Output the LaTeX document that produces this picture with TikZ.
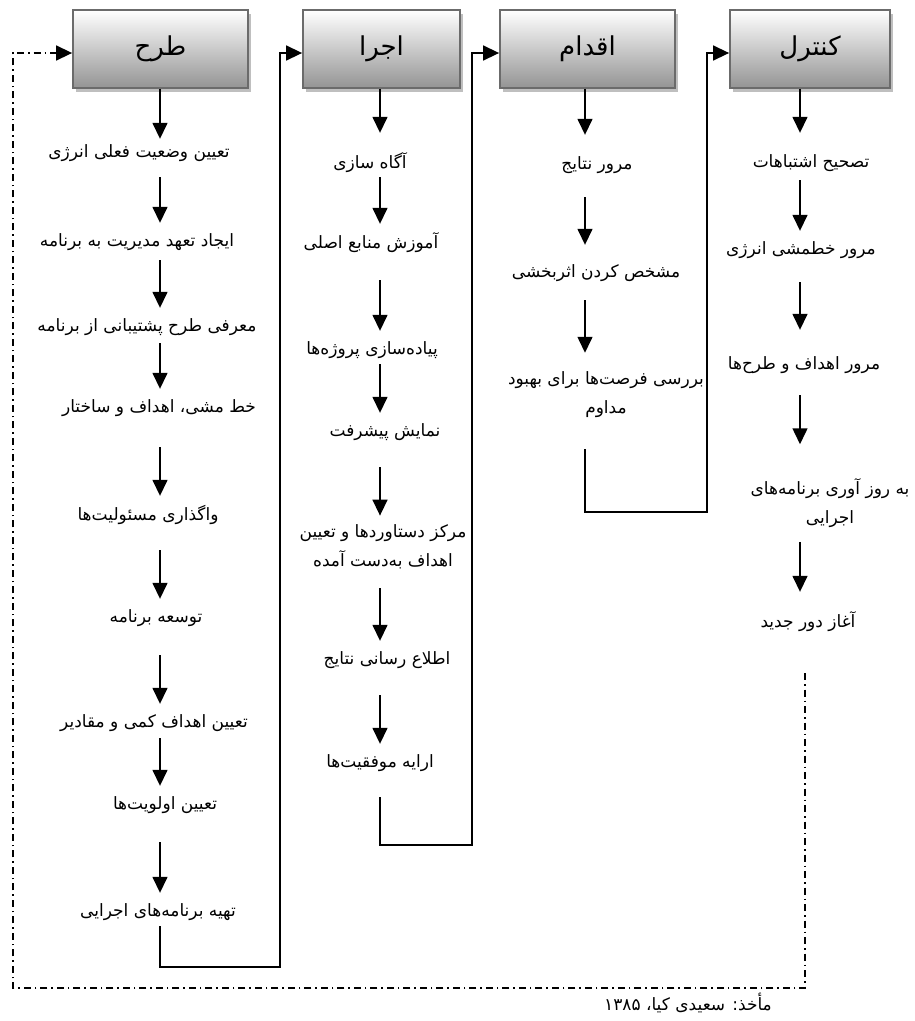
\documentclass[tikz,border=0pt]{standalone}
\usepackage{fontspec}
\newfontfamily\arabicfont[Script=Arabic]{DejaVu Sans}
\TeXXeTstate=1
\usetikzlibrary{arrows.meta,shadows,calc}
\newcommand{\fatext}[1]{\beginR #1\endR}
\newcommand{\zw}{^^^^200c}

\begin{document}
\begin{tikzpicture}[x=1pt, y=-1pt,
                    phase/.style={draw=black!58, line width=1.8pt, rectangle, minimum height=78pt,
                                  top color=white, bottom color=black!42,
                                  drop shadow={shadow xshift=3pt, shadow yshift=-4pt, fill=black!25, opacity=1},
                                  font=\arabicfont\fontsize{26}{30}\selectfont},
                    task/.style={font=\arabicfont\fontsize{17}{29}\selectfont, align=center,
                                 inner sep=1pt, minimum height=28pt},
                    flow/.style={draw, line width=1.5pt, -{Triangle[length=16pt,width=15pt]}, shorten >=5pt},
                    feed/.style={draw, line width=1.5pt, -{Triangle[length=16pt,width=15pt]}},
                    back/.style={feed, dash pattern=on 7pt off 4pt on 1.5pt off 4pt}]
    \useasboundingbox (0,0) rectangle (915,1021);

    % Columns
    \coordinate (c1) at (160,0);
    \coordinate (c2) at (380,0);
    \coordinate (c3) at (585,0);
    \coordinate (c4) at (800,0);
    \coordinate (c5) at (805,0);
    \coordinate (turn1) at (280,967);
    \coordinate (turn2) at (472,845);
    \coordinate (turn3) at (707,512);
    \coordinate (corner) at (13,988);

    % Phases
    \node [phase, minimum width=175pt] (plan)    at (160.5,49) {\fatext{طرح}\hspace{48pt}};
    \node [phase, minimum width=157pt] (execute) at (381.5,49) {\fatext{اجرا}\hspace{48pt}};
    \node [phase, minimum width=175pt] (act)     at (587.5,49) {\fatext{اقدام}\hspace{48pt}};
    \node [phase, minimum width=160pt] (check)   at (810,49)   {\fatext{کنترل}\hspace{52pt}};

    % Nodes
    \node [task] (t11) at (139,153) {\fatext{تعیین وضعیت فعلی انرژی}};
    \node [task] (t12) at (137,242) {\fatext{ایجاد تعهد مدیریت به برنامه}};
    \node [task] (t13) at (147,327) {\fatext{معرفی طرح پشتیبانی از برنامه}};
    \node [task] (t14) at (159,408) {\fatext{خط مشی، اهداف و ساختار}};
    \node [task] (t15) at (148,515) {\fatext{واگذاری مسئولیت\zw ها}};
    \node [task] (t16) at (156,618) {\fatext{توسعه برنامه}};
    \node [task] (t17) at (154,723) {\fatext{تعیین اهداف کمی و مقادیر}};
    \node [task] (t18) at (165,805) {\fatext{تعیین اولویت\zw ها}};
    \node [task] (t19) at (158,912) {\fatext{تهیه برنامه\zw های اجرایی}};

    \node [task] (t21) at (370,163) {\fatext{آگاه سازی}};
    \node [task] (t22) at (371,243) {\fatext{آموزش منابع اصلی}};
    \node [task] (t23) at (372,350) {\fatext{پیاده\zw سازی پروژه\zw ها}};
    \node [task] (t24) at (385,432) {\fatext{نمایش پیشرفت}};
    \node [task] (t25) at (383,547) {\fatext{مرکز دستاوردها و تعیین}\\\fatext{اهداف به\zw دست آمده}};
    \node [task] (t26) at (387,660) {\fatext{اطلاع رسانی نتایج}};
    \node [task] (t27) at (380,763) {\fatext{ارایه موفقیت\zw ها}};

    \node [task] (t31) at (597,165) {\fatext{مرور نتایج}};
    \node [task] (t32) at (596,273) {\fatext{مشخص کردن اثربخشی}};
    \node [task] (t33) at (606,395) {\fatext{بررسی فرصت\zw ها برای بهبود}\\\fatext{مداوم}};

    \node [task] (t41) at (811,163) {\fatext{تصحیح اشتباهات}};
    \node [task] (t42) at (801,250) {\fatext{مرور خطمشی انرژی}};
    \node [task] (t43) at (804,365) {\fatext{مرور اهداف و طرح\zw ها}};
    \node [task] (t44) at (830,503) {\fatext{به روز آوری برنامه\zw های}\\\fatext{اجرایی}};
    \node [task] (t45) at (808,622) {\fatext{آغاز دور جدید}};

    \node [task] (source) at (688,1003) {\fatext{مأخذ: سعیدی کیا، \beginL ۱۳۸۵\endL{}}};

    % Paths
    \path [flow, shorten >=0pt] (plan.south -| c1) -- (t11.north -| c1);
    \path [flow, shorten <=10pt] (t11.south -| c1) -- (t12.north -| c1);
    \path [flow, shorten <=4pt]  (t12.south -| c1) -- (t13.north -| c1);
    \path [flow, shorten <=2pt]  (t13.south -| c1) -- (t14.north -| c1);
    \path [flow, shorten <=25pt] (t14.south -| c1) -- (t15.north -| c1);
    \path [flow, shorten <=21pt] (t15.south -| c1) -- (t16.north -| c1);
    \path [flow, shorten <=23pt] (t16.south -| c1) -- (t17.north -| c1);
    \path [flow, shorten <=1pt]  (t17.south -| c1) -- (t18.north -| c1);
    \path [flow, shorten <=23pt] (t18.south -| c1) -- (t19.north -| c1);
    \path [feed] (t19.south -| c1) |- (turn1) |- ([yshift=-4pt]execute.west);

    \path [flow, shorten >=16pt] (execute.south -| c2) -- (t21.north -| c2);
    \path [flow]                 (t21.south -| c2) -- (t22.north -| c2);
    \path [flow, shorten <=23pt] (t22.south -| c2) -- (t23.north -| c2);
    \path [flow]                 (t23.south -| c2) -- (t24.north -| c2);
    \path [flow, shorten <=21pt, shorten >=8pt] (t24.south -| c2) -- (t25.north -| c2);
    \path [flow, shorten <=18pt] (t25.south -| c2) -- (t26.north -| c2);
    \path [flow, shorten <=21pt] (t26.south -| c2) -- (t27.north -| c2);
    \path [feed, shorten <=20pt] (t27.south -| c2) |- (turn2) |- ([yshift=-4pt]act.west);

    \path [flow, shorten >=16pt] (act.south -| c3) -- (t31.north -| c3);
    \path [flow, shorten <=18pt, shorten >=14pt] (t31.south -| c3) -- (t32.north -| c3);
    \path [flow, shorten <=13pt, shorten >=18pt] (t32.south -| c3) -- (t33.north -| c3);
    \path [feed, shorten <=30pt] (t33.south -| c3) |- (turn3) |- ([yshift=-4pt]check.west);

    \path [flow, shorten >=16pt] (check.south -| c4) -- (t41.north -| c4);
    \path [flow, shorten <=3pt]  (t41.south -| c4) -- (t42.north -| c4);
    \path [flow, shorten <=18pt, shorten >=21pt] (t42.south -| c4) -- (t43.north -| c4);
    \path [flow, shorten <=16pt, shorten >=33pt] (t43.south -| c4) -- (t44.north -| c4);
    \path [flow, shorten <=13pt, shorten >=16pt] (t44.south -| c4) -- (t45.north -| c4);
    \path [back, shorten <=37pt] (t45.south -| c5) |- (corner) |- ([yshift=-4pt]plan.west);
\end{tikzpicture}
\end{document}
